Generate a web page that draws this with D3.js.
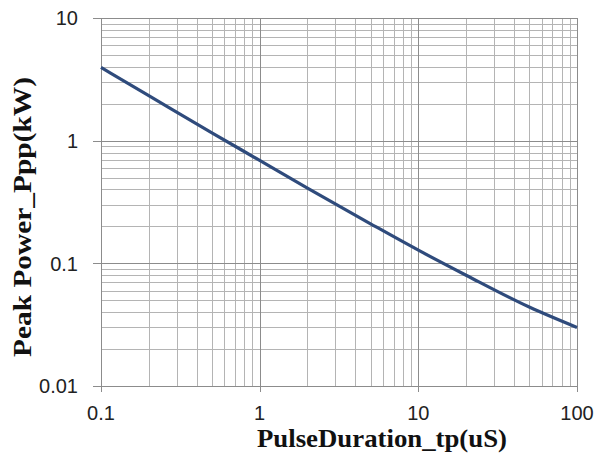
<!DOCTYPE html>
<html>
<head>
<meta charset="utf-8">
<script src="https://cdn.jsdelivr.net/npm/d3@7"></script>
<style>
  body { margin: 0; background: #fff; }
</style>
</head>
<body>
<div id="chart"></div>
<script>
// Pulse duration (uS) vs peak power (kW)
const durations = [0.1, 0.2, 0.5, 1, 2, 5, 10, 20, 50, 100];
const peakPower = [3.95, 2.33, 1.16, 0.69, 0.41, 0.21, 0.128, 0.080, 0.044, 0.030];
const xTicks = [0.1, 1, 10, 100];
const yTicks = [0.01, 0.1, 1, 10];
const xTickLabels = ["0.1", "1", "10", "100"];
const yTickLabels = ["0.01", "0.1", "1", "10"];

const W = 597, H = 464;
const margin = {top: 18, right: 20, bottom: 78, left: 101};
const width = W - margin.left - margin.right;
const height = H - margin.top - margin.bottom;

const sans = "'Liberation Sans', Arial, sans-serif";
const serif = "'Liberation Serif', 'Times New Roman', serif";

const svg = d3.select("#chart").append("svg")
    .attr("width", W)
    .attr("height", H);

const g = svg.append("g")
    .attr("transform", "translate(" + margin.left + "," + margin.top + ")");

const x = d3.scaleLog().domain([0.1, 100]).range([0, width]);
const y = d3.scaleLog().domain([0.01, 10]).range([height, 0]);

// minor grid (2..9 of each decade)
const minorX = [], minorY = [];
[0.1, 1, 10].forEach(function(d) {
  for (let k = 2; k <= 9; k++) minorX.push(d * k);
});
[0.01, 0.1, 1].forEach(function(d) {
  for (let k = 2; k <= 9; k++) minorY.push(d * k);
});

g.selectAll(".gx").data(minorX).enter().append("line")
    .attr("x1", d => Math.round(x(d)) + 0.5).attr("x2", d => Math.round(x(d)) + 0.5)
    .attr("y1", 0).attr("y2", height)
    .attr("stroke", "#b4b4b4").attr("stroke-width", 1);
g.selectAll(".gy").data(minorY).enter().append("line")
    .attr("y1", d => Math.round(y(d)) + 0.5).attr("y2", d => Math.round(y(d)) + 0.5)
    .attr("x1", 0).attr("x2", width)
    .attr("stroke", "#b4b4b4").attr("stroke-width", 1);

// major grid + outward ticks
g.selectAll(".mx").data(xTicks).enter().append("line")
    .attr("x1", d => Math.round(x(d)) + 0.5).attr("x2", d => Math.round(x(d)) + 0.5)
    .attr("y1", 0).attr("y2", height + 6)
    .attr("stroke", "#8c8c8c").attr("stroke-width", 1);
g.selectAll(".my").data(yTicks).enter().append("line")
    .attr("y1", d => Math.round(y(d)) + 0.5).attr("y2", d => Math.round(y(d)) + 0.5)
    .attr("x1", -8).attr("x2", width)
    .attr("stroke", "#8c8c8c").attr("stroke-width", 1);

g.append("rect")
    .attr("x", 0.5).attr("y", 0.5)
    .attr("width", width).attr("height", height)
    .attr("fill", "none").attr("stroke", "#8c8c8c");

// tick labels
g.selectAll(".xl").data(xTicks).enter().append("text")
    .attr("x", d => x(d))
    .attr("y", height + 34)
    .attr("text-anchor", "middle")
    .style("font-family", sans)
    .style("font-size", "20px")
    .style("fill", "#222")
    .text((d, i) => xTickLabels[i]);

g.selectAll(".yl").data(yTicks).enter().append("text")
    .attr("x", -23)
    .attr("y", d => y(d))
    .attr("dy", "0.36em")
    .attr("text-anchor", "end")
    .style("font-family", sans)
    .style("font-size", "20px")
    .style("fill", "#222")
    .text((d, i) => yTickLabels[i]);

// curve
const line = d3.line()
    .x(d => x(d[0]))
    .y(d => y(d[1]))
    .curve(d3.curveMonotoneX);

g.append("path")
    .datum(durations.map((d, i) => [d, peakPower[i]]))
    .attr("fill", "none")
    .attr("stroke", "#2f4b7c")
    .attr("stroke-width", 3.2)
    .attr("d", line);

// axis titles
svg.append("text")
    .attr("x", 382)
    .attr("y", 447)
    .attr("text-anchor", "middle")
    .attr("textLength", 250)
    .attr("lengthAdjust", "spacingAndGlyphs")
    .style("font-family", serif)
    .style("font-weight", "bold")
    .style("font-size", "26px")
    .style("fill", "#111")
    .text("PulseDuration_tp(uS)");

svg.append("text")
    .attr("transform", "translate(31,217) rotate(-90)")
    .attr("text-anchor", "middle")
    .attr("textLength", 280)
    .attr("lengthAdjust", "spacingAndGlyphs")
    .style("font-family", serif)
    .style("font-weight", "bold")
    .style("font-size", "26px")
    .style("fill", "#111")
    .text("Peak  Power_Ppp(kW)");
</script>
</body>
</html>
